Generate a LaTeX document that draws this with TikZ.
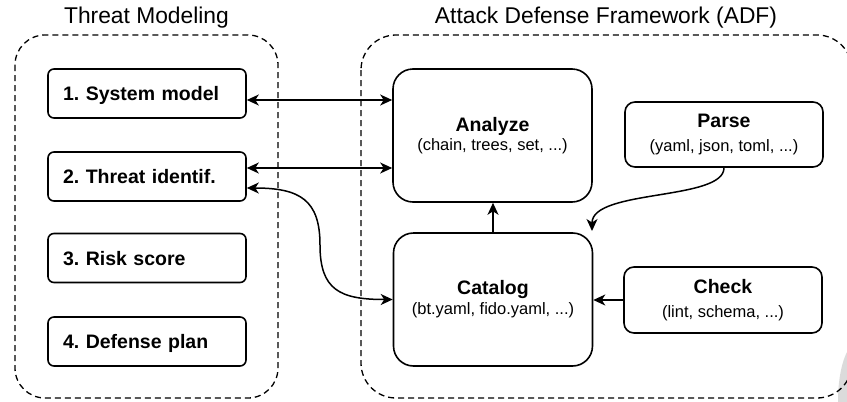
\documentclass[tikz,border=0pt]{standalone}
\usepackage{fontspec}
\setmainfont{Liberation Sans}
\usetikzlibrary{arrows.meta}
\frenchspacing
\begin{document}
\begin{tikzpicture}[x=1pt,y=-1pt,
  tip/.tip={Stealth[length=12pt,width=11pt,inset=3.5pt]},
  arr/.style={line width=1.5pt,-{tip}},
  biarr/.style={line width=1.5pt,{tip}-{tip}},
  container/.style={draw,dashed,line width=1.3pt,dash pattern=on 6pt off 4pt},
  stepbox/.style={draw,line width=1.6pt,rounded corners=6pt,minimum height=49pt,
    text width=168pt,inner xsep=15pt,inner ysep=0pt,align=left,text height=14pt,text depth=0pt,
    font=\fontsize{19.5}{20}\selectfont\bfseries},
  bigbox/.style={draw,line width=1.6pt,rounded corners=20pt,minimum width=199pt,minimum height=133pt,align=center},
  smallbox/.style={draw,line width=1.6pt,rounded corners=10pt,minimum width=198pt,minimum height=66pt,align=center},
  ttl/.style={font=\fontsize{22.8}{24}\selectfont,anchor=base}
]
\newcommand\boxhead[1]{{\fontsize{19.5}{20}\selectfont\bfseries #1}}
\useasboundingbox (0,0) rectangle (847,402);
% gray blob at bottom right
\fill[gray!28] (847,352) .. controls (840,366) and (838,386) .. (838,402) -- (847,402) -- cycle;
% containers
\draw[container,rounded corners=30pt] (15,35) rectangle (278,398);
\draw[container,rounded corners=35pt] (361,35) rectangle (852,398);
% titles
\node[ttl] (t1) at (146.5,23) {Threat Modeling};
\node[ttl] (t2) at (606,23) {Attack Defense Framework (ADF)};
% left boxes
\node[stepbox] (sys) at (147,93.5) {1. System model};
\node[stepbox] (thr) at (147,176.5) {2. Threat identif.};
\node[stepbox] (risk) at (147,258) {3. Risk score};
\node[stepbox] (def) at (147,341.5) {4. Defense plan};
% right boxes
\node[bigbox,font=\fontsize{16.5}{19}\selectfont] (ana) at (492.5,135.5) {\boxhead{Analyze}\\(chain, trees, set, ...)};
\node[bigbox,font=\fontsize{16.5}{20}\selectfont] (cat) at (493,299.5) {\boxhead{Catalog}\\(bt.yaml, fido.yaml, ...)};
\node[smallbox,minimum height=65pt,font=\fontsize{16.5}{24}\selectfont] (parse) at (724,134.5) {\boxhead{Parse}\\(yaml, json, toml, ...)};
\node[smallbox,font=\fontsize{16.5}{24}\selectfont] (check) at (723,300) {\boxhead{Check}\\(lint, schema, ...)};
% connectors
\draw[biarr] ([yshift=-6.5pt]sys.east) -- ([yshift=-6.5pt]sys.east -| ana.west);
\draw[biarr] ([yshift=8.5pt]thr.east) -- ([yshift=8.5pt]thr.east -| ana.west);
\coordinate (m1) at (320,245);
\draw[biarr] ([yshift=-11.5pt]thr.east) .. controls (300,188) and (320,200) .. (m1)
   .. controls (320,290) and (340,299.5) .. (cat.west);
\draw[arr] (cat.north) -- (cat.north |- ana.south);
\coordinate (pc) at (592,231);
\draw[arr] (parse.south) .. controls +(0,33) and +(0,-42) .. (pc);
\draw[arr] (check.west) -- (check.west -| cat.east);
\end{tikzpicture}
\end{document}
